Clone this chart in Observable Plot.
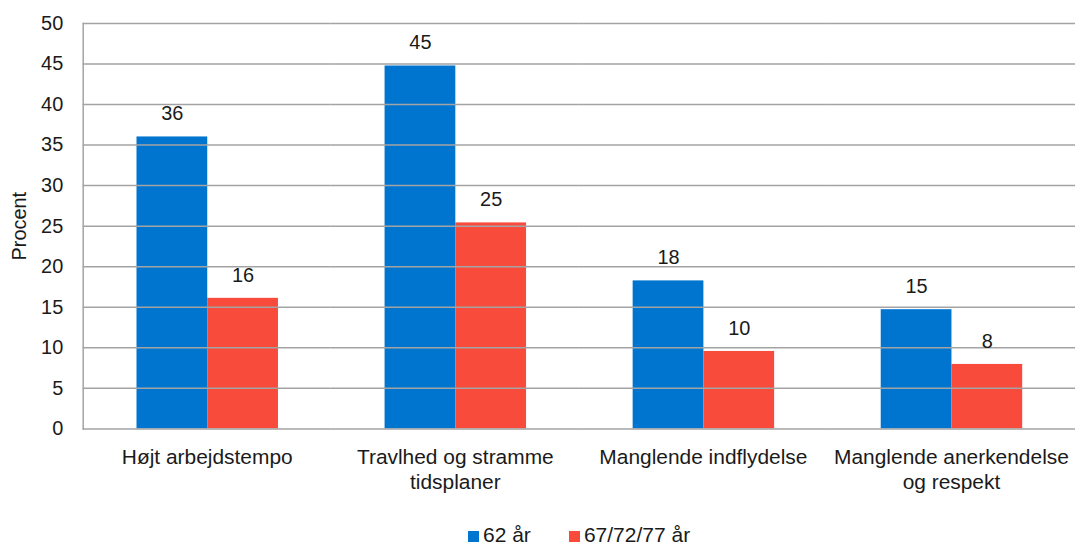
<!DOCTYPE html>
<html>
<head>
<meta charset="utf-8">
<script src="https://cdn.jsdelivr.net/npm/d3@7"></script>
<script src="https://cdn.jsdelivr.net/npm/@observablehq/plot@0.6"></script>
<style>
  html, body { margin: 0; padding: 0; background: #fff; overflow: hidden; width: 1075px; height: 545px; }
  #chart svg { display: block; }
  .legend { height: 24px; line-height: 24px; font-family: "Liberation Sans", Arial, sans-serif; font-size: 21px; color: #1a1a1a; margin-left: 468px; white-space: nowrap; }
  .legend span.item { display: inline-block; margin-right: 38px; }
  .legend span.sw { display: inline-block; width: 11px; height: 11px; margin-right: 4px; position: relative; top: -0.5px; }
</style>
</head>
<body>
<div id="chart"></div>
<div class="legend" id="legend"></div>
<script>
const categories = ["Højt arbejdstempo", "Travlhed og stramme\ntidsplaner", "Manglende indflydelse", "Manglende anerkendelse\nog respekt"];
const series = ["62 år", "67/72/77 år"];
const values62 = [36.0, 44.75, 18.25, 14.7];
const values67 = [16.1, 25.4, 9.55, 7.95];
const yTicks = [0, 5, 10, 15, 20, 25, 30, 35, 40, 45, 50];
const colors = ["#0075CF", "#F84B3C"];

const data = [];
categories.forEach((c, i) => {
  data.push({category: c, series: series[0], value: values62[i]});
  data.push({category: c, series: series[1], value: values67[i]});
});

const plot = Plot.plot({
  width: 1079,
  height: 525,
  marginLeft: 82,
  marginRight: 0,
  marginTop: 23,
  marginBottom: 95,
  style: {fontFamily: "Liberation Sans, Arial, sans-serif", color: "#1a1a1a", background: "#fff"},
  fx: {domain: categories, padding: 0, label: null},
  x: {domain: series, paddingInner: 0, paddingOuter: 0.738, axis: null},
  y: {domain: [0, 50], label: null},
  color: {domain: series, range: colors},
  marks: [
    Plot.barY(data, {fx: "category", x: "series", y: "value", fill: "series"}),
    Plot.ruleY(yTicks, {stroke: "#A3A3A3", strokeWidth: 1.5}),
    Plot.text(data, {fx: "category", x: "series", y: "value", text: d => String(Math.round(d.value)), dy: -23, fontSize: 20, fill: "#1a1a1a"}),
    Plot.axisY({ticks: yTicks, tickSize: 0, tickPadding: 20, fontSize: 20, label: "Procent", labelAnchor: "center", labelOffset: 72, labelArrow: "none"}),
    Plot.axisFx({anchor: "bottom", tickSize: 0, tickPadding: 17, fontSize: 21, label: null, lineHeight: 1.2}),
    Plot.frame({anchor: "left", facet: "super", stroke: "#A3A3A3", strokeWidth: 1.5})
  ]
});
document.getElementById("chart").appendChild(plot);

const legend = document.getElementById("legend");
series.forEach((s, i) => {
  const item = document.createElement("span");
  item.className = "item";
  const sw = document.createElement("span");
  sw.className = "sw";
  sw.style.background = colors[i];
  item.appendChild(sw);
  item.appendChild(document.createTextNode(s));
  legend.appendChild(item);
});
</script>
</body>
</html>
